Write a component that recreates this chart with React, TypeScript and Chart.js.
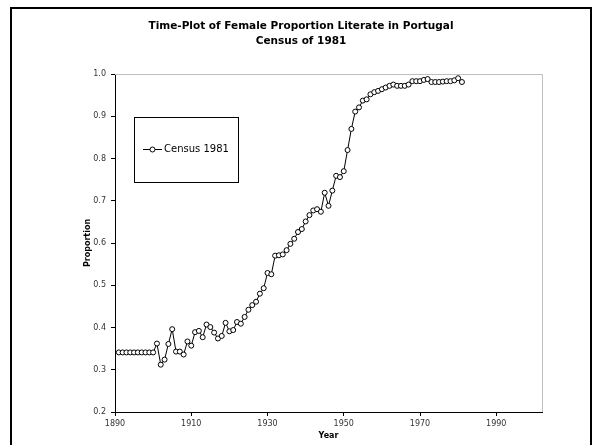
import React, { useEffect, useRef } from "react";
import { Chart, registerables } from "chart.js";

Chart.register(...registerables);

const titleLines = ["Time-Plot of Female Proportion Literate in Portugal", "Census of 1981"];
const seriesLabel = "Census 1981";
const xTitle = "Year";
const yTitle = "Proportion";

const years = [
  1891, 1892, 1893, 1894, 1895, 1896, 1897, 1898, 1899, 1900,
  1901, 1902, 1903, 1904, 1905, 1906, 1907, 1908, 1909, 1910,
  1911, 1912, 1913, 1914, 1915, 1916, 1917, 1918, 1919, 1920,
  1921, 1922, 1923, 1924, 1925, 1926, 1927, 1928, 1929, 1930,
  1931, 1932, 1933, 1934, 1935, 1936, 1937, 1938, 1939, 1940,
  1941, 1942, 1943, 1944, 1945, 1946, 1947, 1948, 1949, 1950,
  1951, 1952, 1953, 1954, 1955, 1956, 1957, 1958, 1959, 1960,
  1961, 1962, 1963, 1964, 1965, 1966, 1967, 1968, 1969, 1970,
  1971, 1972, 1973, 1974, 1975, 1976, 1977, 1978, 1979, 1980,
  1981,
];

const proportion = [
  0.341, 0.341, 0.341, 0.341, 0.341, 0.341, 0.341, 0.341, 0.341, 0.341,
  0.362, 0.312, 0.324, 0.361, 0.396, 0.343, 0.343, 0.336, 0.367, 0.357,
  0.389, 0.392, 0.377, 0.407, 0.401, 0.388, 0.374, 0.380, 0.411, 0.391,
  0.394, 0.413, 0.409, 0.425, 0.442, 0.453, 0.461, 0.480, 0.493, 0.529,
  0.526, 0.570, 0.571, 0.573, 0.583, 0.598, 0.610, 0.626, 0.633, 0.651,
  0.666, 0.677, 0.680, 0.674, 0.719, 0.688, 0.724, 0.759, 0.756, 0.770,
  0.820, 0.870, 0.911, 0.921, 0.937, 0.940, 0.952, 0.957, 0.960, 0.964,
  0.968, 0.972, 0.975, 0.972, 0.972, 0.972, 0.975, 0.983, 0.983, 0.983,
  0.986, 0.988, 0.981, 0.981, 0.981, 0.982, 0.983, 0.983, 0.985, 0.990,
  0.981,
];

const xTicks = [1890, 1910, 1930, 1950, 1970, 1990];
const yTicks = [0.2, 0.3, 0.4, 0.5, 0.6, 0.7, 0.8, 0.9, 1.0];

const FONT = "'DejaVu Sans', Verdana, sans-serif";

const framePlugin = {
  id: "frame",
  beforeDraw(chart: any) {
    const ctx = chart.ctx;
    ctx.save();
    ctx.fillStyle = "#ffffff";
    ctx.fillRect(0, 0, chart.width, chart.height);
    ctx.strokeStyle = "#000000";
    ctx.lineWidth = 2;
    ctx.strokeRect(11, 8, 580, 500);
    ctx.restore();
  },
  beforeDatasetsDraw(chart: any) {
    const { ctx, chartArea } = chart;
    ctx.save();
    ctx.strokeStyle = "#c0c0c0";
    ctx.lineWidth = 1;
    ctx.beginPath();
    ctx.moveTo(chartArea.left, chartArea.top + 0.5);
    ctx.lineTo(chartArea.right + 0.5, chartArea.top + 0.5);
    ctx.lineTo(chartArea.right + 0.5, chartArea.bottom);
    ctx.stroke();
    ctx.restore();
  },
};

const legendPlugin = {
  id: "boxLegend",
  afterDraw(chart: any) {
    const ctx = chart.ctx;
    const ds = chart.data.datasets[0];
    const x = 134, y = 117, w = 104, h = 65;
    ctx.save();
    ctx.fillStyle = "#ffffff";
    ctx.fillRect(x, y, w, h);
    ctx.strokeStyle = "#000000";
    ctx.lineWidth = 1;
    ctx.strokeRect(x + 0.5, y + 0.5, w, h);
    const cy = 149.5;
    ctx.beginPath();
    ctx.moveTo(143, cy);
    ctx.lineTo(162, cy);
    ctx.stroke();
    ctx.beginPath();
    ctx.arc(152.5, cy, 2.5, 0, Math.PI * 2);
    ctx.fillStyle = "#ffffff";
    ctx.fill();
    ctx.stroke();
    ctx.fillStyle = "#000000";
    ctx.font = `10px ${FONT}`;
    ctx.textBaseline = "middle";
    ctx.textAlign = "left";
    ctx.fillText(ds.label, 164, cy);
    ctx.restore();
  },
};

export default function App() {
  const canvasRef = useRef<HTMLCanvasElement | null>(null);

  useEffect(() => {
    const canvas = canvasRef.current;
    if (!canvas) return;
    const points = years.map((yr, i) => ({ x: yr, y: proportion[i] }));
    const chart = new Chart(canvas, {
      type: "scatter",
      data: {
        datasets: [
          {
            label: seriesLabel,
            data: points,
            showLine: true,
            borderColor: "#000000",
            borderWidth: 1,
            pointRadius: 2.5,
            pointBorderWidth: 1,
            pointBackgroundColor: "#ffffff",
            pointBorderColor: "#000000",
            tension: 0,
          },
        ],
      },
      plugins: [framePlugin, legendPlugin],
      options: {
        responsive: false,
        animation: false,
        devicePixelRatio: 1,
        layout: { padding: { left: 0, right: 0, top: 0, bottom: 0 } },
        plugins: {
          legend: { display: false },
          tooltip: { enabled: false },
          title: {
            display: true,
            text: titleLines,
            color: "#000000",
            font: { family: FONT, size: 10.5, weight: "bold", lineHeight: "15px" },
            padding: { top: 19, bottom: 25 },
          },
        },
        scales: {
          x: {
            type: "linear",
            min: 1890,
            max: 2002,
            afterBuildTicks: (scale: any) => {
              scale.ticks = xTicks.map((v) => ({ value: v }));
            },
            afterFit: (scale: any) => {
              scale.height = 33;
            },
            ticks: {
              color: "#333333",
              font: { family: FONT, size: 8 },
              padding: 3,
              maxRotation: 0,
              autoSkip: false,
              callback: (v: any) => String(v),
            },
            grid: {
              display: true,
              drawOnChartArea: false,
              drawTicks: true,
              tickLength: 4,
              tickColor: "#000000",
            },
            border: { display: true, color: "#000000", width: 1 },
            title: {
              display: true,
              text: xTitle,
              color: "#000000",
              font: { family: FONT, size: 8, weight: "bold" },
              padding: { top: 0, bottom: 4 },
            },
          },
          y: {
            type: "linear",
            min: 0.2,
            max: 1.0,
            afterBuildTicks: (scale: any) => {
              scale.ticks = yTicks.map((v) => ({ value: v }));
            },
            afterFit: (scale: any) => {
              scale.width = 115;
            },
            ticks: {
              color: "#333333",
              font: { family: FONT, size: 8 },
              padding: 5,
              autoSkip: false,
              callback: (v: any) => Number(v).toFixed(1),
            },
            grid: {
              display: true,
              drawOnChartArea: false,
              drawTicks: true,
              tickLength: 4,
              tickColor: "#000000",
            },
            border: { display: true, color: "#000000", width: 1 },
            title: {
              display: true,
              text: yTitle,
              color: "#000000",
              font: { family: FONT, size: 8, weight: "bold" },
              padding: { top: 83, bottom: 0 },
            },
          },
          yRight: {
            type: "linear",
            position: "right",
            min: 0.2,
            max: 1.0,
            afterFit: (scale: any) => {
              scale.width = 60;
            },
            ticks: { display: false },
            grid: { display: false, drawTicks: false },
            border: { display: false },
          },
        },
      },
    });
    return () => chart.destroy();
  }, []);

  return (
    <div style={{ position: "absolute", left: 0, top: 0, width: 602, height: 445 }}>
      <canvas ref={canvasRef} width={602} height={445} style={{ display: "block" }} />
    </div>
  );
}
